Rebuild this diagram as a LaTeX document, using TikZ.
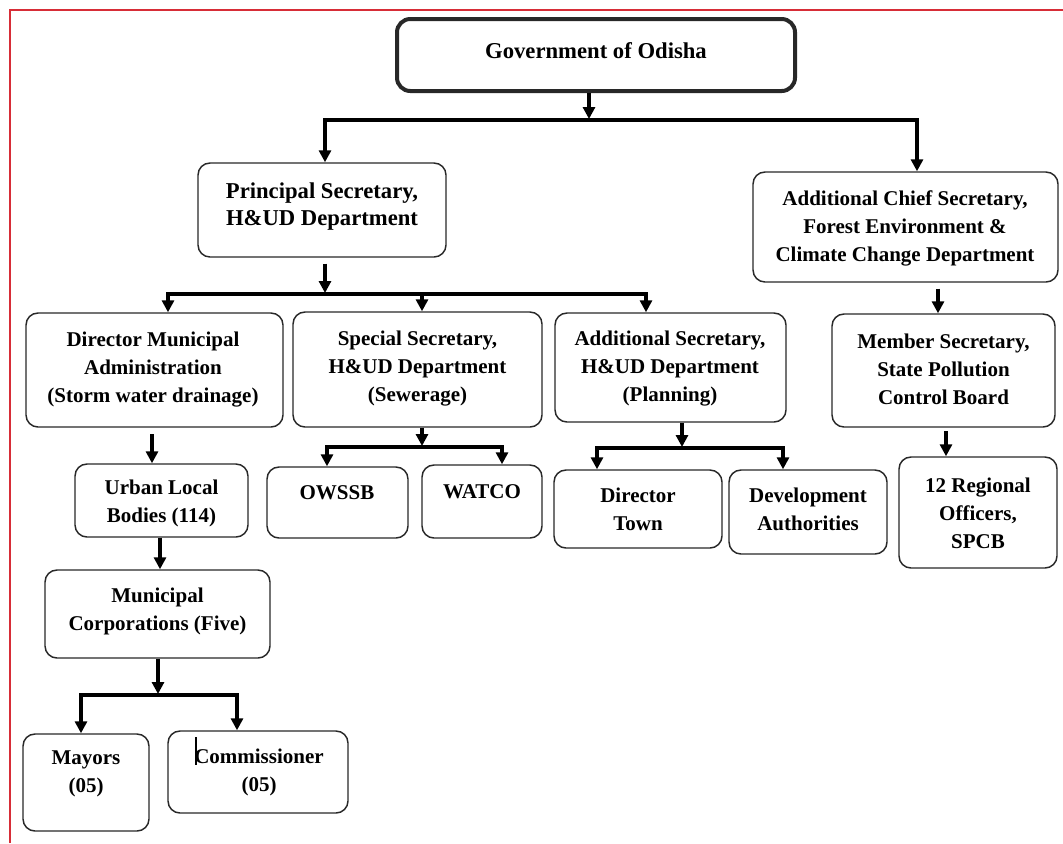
\documentclass[tikz,border=0pt]{standalone}
\usepackage{fontspec}
\setmainfont{Liberation Serif}
\usetikzlibrary{arrows.meta}
\definecolor{framered}{RGB}{215,45,55}
\definecolor{boxline}{RGB}{40,40,40}
\begin{document}
\begin{tikzpicture}[x=0.75pt,y=-0.75pt,
  box/.style={draw=boxline, line width=1.1pt, rounded corners=9pt, fill=white, inner sep=0pt},
  sz/.style 2 args={minimum width=#1*0.75pt, minimum height=#2*0.75pt},
  txt/.style={align=center, inner sep=0pt, font=\fontsize{15.75}{21}\selectfont\bfseries},
  bigtxt/.style={align=center, inner sep=0pt, font=\fontsize{17}{20.3}\selectfont\bfseries},
  link/.style={line width=2.9pt, line join=miter, line cap=butt},
  arr/.style={link, -{Triangle[width=9pt,length=9pt]}},
  arrtwo/.style={link, {Triangle[width=9pt,length=9pt]}-{Triangle[width=9pt,length=9pt]}},
]
\useasboundingbox (0,0) rectangle (1063,843);
\fill[white] (0,0) rectangle (1063,843);
% red frame
\draw[framered, line width=1.1pt] (10,843) -- (10,10) -- (1063,10);

% boxes
\node[box, sz={398}{72}, line width=3pt, rounded corners=10pt] (gov) at (596,55) {};
\node[bigtxt] (govt) at (596,51) {Government of Odisha};

\node[box, sz={248}{94}] (ps) at (322,210) {};
\node[bigtxt] (pst) at (322,206.5) {Principal Secretary,\\H\&UD Department};

\node[box, sz={305}{110}] (acs) at (905.5,227) {};
\node[txt] (acst) at (905,228.5) {Additional Chief Secretary,\\Forest Environment \&\\Climate Change Department};

\node[box, sz={257}{114}] (dma) at (154.5,370) {};
\node[txt] (dmat) at (153,370) {Director Municipal\\Administration\\(Storm water drainage)};

\node[box, sz={249}{115}] (ss) at (417.5,369.5) {};
\node[txt] (sst) at (417.5,368.5) {Special Secretary,\\H\&UD Department\\(Sewerage)};

\node[box, sz={231}{109}] (as) at (670.5,367.5) {};
\node[txt] (ast) at (670,368.5) {Additional Secretary,\\H\&UD Department\\(Planning)};

\node[box, sz={223}{113}] (ms) at (943.5,370.5) {};
\node[txt] (mst) at (943.5,369.5) {Member Secretary,\\State Pollution\\Control Board};

\node[box, sz={173}{73}] (ulb) at (161.5,500.5) {};
\node[txt] (ulbt) at (161.5,503) {Urban Local\\Bodies (114)};

\node[box, sz={141}{71}] (owssb) at (337.5,502.5) {};
\node[txt] (owssbt) at (337,493) {OWSSB};

\node[box, sz={120}{73}] (watco) at (482,501.5) {};
\node[txt] (watcot) at (482,492) {WATCO};

\node[box, sz={168}{78}] (dt) at (638,509) {};
\node[txt] (dtt) at (638,509.5) {Director\\Town};

\node[box, sz={158}{84}] (da) at (808,512) {};
\node[txt] (dat) at (808,509.5) {Development\\Authorities};

\node[box, sz={158}{111}] (ro) at (978,512.5) {};
\node[txt] (rot) at (978,513) {12 Regional\\Officers,\\SPCB};

\node[box, sz={225}{88}] (mc) at (157.5,614) {};
\node[txt] (mct) at (157.5,611.5) {Municipal\\Corporations (Five)};

\node[box, sz={126}{97}] (my) at (86,782.5) {};
\node[txt] (myt) at (86,774) {Mayors\\(05)};

\node[box, sz={180}{82}] (cm) at (258,772) {};
\node[txt] (cmt) at (259,772) {Commissioner\\(05)};
% text cursor artefact
\draw[line width=0.8pt] (196,737) -- (196,765);

% junction coordinates
\coordinate (j0) at (589,119);
\coordinate (j0l) at (325,120);
\coordinate (j0r) at (917,120);
\coordinate (j1) at (325,293);
\coordinate (j1l) at (168,294);
\coordinate (j1m) at (422,294);
\coordinate (j1r) at (646,294);
\coordinate (j2) at (422,446);
\coordinate (j2l) at (327,447);
\coordinate (j2r) at (502,447);
\coordinate (j3) at (682,447);
\coordinate (j3l) at (597,448);
\coordinate (j3r) at (783,448);
\coordinate (j4) at (158,694);
\coordinate (j4l) at (81,695);
\coordinate (j4r) at (237,695);
\coordinate (c1) at (152,440);
\coordinate (c2) at (938,300);
\coordinate (c3) at (946,440);
\coordinate (c4) at (160,550);

% connectors
\draw[arr] (gov.south -| j0) -- (j0);
\draw[arrtwo] (ps.north -| j0l) -- (j0l) -- (j0r) -- (acs.north -| j0r);

\draw[arr, shorten <=4.5pt] (ps.south -| j1) -- (j1);
\draw[arrtwo] (dma.north -| j1l) -- (j1l) -- (j1r) -- (as.north -| j1r);
\draw[arr] (j1m) -- (ss.north -| j1m);

\draw[arr, shorten <=5pt] (dma.south -| c1) -- (ulb.north -| c1);

\draw[arr] (ss.south -| j2) -- (j2);
\draw[arrtwo] (owssb.north -| j2l) -- (j2l) -- (j2r) -- (watco.north -| j2r);

\draw[arr] (as.south -| j3) -- (j3);
\draw[arrtwo] (dt.north -| j3l) -- (j3l) -- (j3r) -- (da.north -| j3r);

\draw[arr, shorten <=4.5pt] (acs.south -| c2) -- (ms.north -| c2);
\draw[arr, shorten <=2.5pt] (ms.south -| c3) -- (ro.north -| c3);

\draw[arr] (ulb.south -| c4) -- (mc.north -| c4);
\draw[arr] (mc.south -| j4) -- (j4);
\draw[arrtwo] (my.north -| j4l) -- (j4l) -- (j4r) -- (cm.north -| j4r);
\end{tikzpicture}
\end{document}
